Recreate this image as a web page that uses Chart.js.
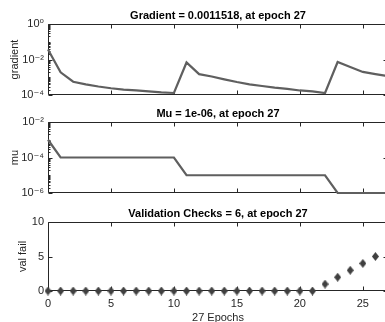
<!DOCTYPE html>
<html><head><meta charset="utf-8">
<script src="https://cdn.jsdelivr.net/npm/chart.js@4"></script>
<style>
html,body{margin:0;padding:0;background:#fff;overflow:hidden;}
#wrap{position:relative;width:400px;height:330px;}
canvas{position:absolute;left:0;}
#c1{top:0;z-index:1;} #c2{top:96px;z-index:3;} #c3{top:196px;z-index:2;}
</style></head><body>
<div id="wrap">
<canvas id="c1" width="400" height="108"></canvas>
<canvas id="c2" width="400" height="108"></canvas>
<canvas id="c3" width="400" height="134"></canvas>
</div>
<script>
// ---- data ----
const epochs = [0,1,2,3,4,5,6,7,8,9,10,11,12,13,14,15,16,17,18,19,20,21,22,23,24,25,26,27];
const gradient = [0.037,0.0019,0.00056,0.0004,0.0003,0.00024,0.0002,0.00018,0.00016,0.00014,0.00013,
  0.0068,0.0015,0.0011,0.00076,0.00054,0.0004,0.00032,0.00026,0.00022,0.00018,0.00016,0.00013,
  0.0072,0.0038,0.002,0.0015,0.0011518];
const mu = [1e-3,1e-4,1e-4,1e-4,1e-4,1e-4,1e-4,1e-4,1e-4,1e-4,1e-4,
  1e-5,1e-5,1e-5,1e-5,1e-5,1e-5,1e-5,1e-5,1e-5,1e-5,1e-5,1e-5,
  1e-6,1e-6,1e-6,1e-6,1e-6];
const valFail = [0,0,0,0,0,0,0,0,0,0,0,0,0,0,0,0,0,0,0,0,0,0,1,2,3,4,5,6];
const xTicks = [0,5,10,15,20,25];
const gradTicks = [1e-4,1e-2,1];
const muTicks = [1e-6,1e-4,1e-2];
const valTicks = [0,5,10];
const titles = ['Gradient = 0.0011518, at epoch 27','Mu = 1e-06, at epoch 27','Validation Checks = 6, at epoch 27'];
const yLabels = ['gradient','mu','val fail'];
const xLabel = '27 Epochs';

// ---- style ----
const FONT = "'Liberation Sans', Arial, Helvetica, 'DejaVu Sans', sans-serif";
Chart.defaults.font.family = FONT;
Chart.defaults.color = '#262626';
const AX = '#262626';
const LINE = '#5f5f5f';

const SUP = {'-':'\u207B','0':'\u2070','1':'\u00B9','2':'\u00B2','3':'\u00B3','4':'\u2074','5':'\u2075','6':'\u2076','7':'\u2077','8':'\u2078','9':'\u2079'};
function logLabel(v){ const e = Math.round(Math.log10(v)); return '10' + String(e).split('').map(c=>SUP[c]).join(''); }

function diamond(w,h,color){
  const c=document.createElement('canvas'); c.width=w; c.height=h;
  const g=c.getContext('2d'); g.fillStyle=color;
  g.beginPath(); g.moveTo(w/2,0); g.lineTo(w,h/2); g.lineTo(w/2,h); g.lineTo(0,h/2); g.closePath(); g.fill();
  return c;
}

const boxPlugin = {
  id:'boxTicks',
  beforeDatasetsDraw(chart){
    const {ctx, chartArea:a, scales} = chart;
    const x = scales.x, y = scales.y;
    const L=Math.round(a.left)+0.5, R=Math.round(a.right)-0.5, T=Math.round(a.top)+0.5, B=Math.round(a.bottom)-0.5;
    ctx.save();
    ctx.strokeStyle=AX; ctx.lineWidth=1;
    const seg=(x1,y1,x2,y2)=>{ctx.beginPath();ctx.moveTo(x1,y1);ctx.lineTo(x2,y2);ctx.stroke();};
    seg(L,B,R,B); seg(L,T,R,T); seg(R,T,R,B); seg(L,T,L,B);
    xTicks.forEach(v=>{const p=Math.round(x.getPixelForValue(v))+0.5; seg(p,T,p,T+4); seg(p,B,p,B-4);});
    if (y.type==='logarithmic'){
      const e0=Math.round(Math.log10(y.min)), e1=Math.round(Math.log10(y.max));
      for(let e=e0;e<=e1;e++){
        for(let m=1;m<=9;m++){
          const v=m*Math.pow(10,e); if(v>y.max*1.0001) break;
          const major = (m===1 && (e%2===0));
          const len = major?4:2;
          const p=Math.round(y.getPixelForValue(v))+0.5;
          seg(L,p,L+len,p); seg(R,p,R-len,p);
        }
      }
    } else {
      y.ticks.forEach(t=>{const p=Math.round(y.getPixelForValue(t.value))+0.5; seg(L,p,L+4,p); seg(R,p,R-4,p);});
    }
    ctx.restore();
  }
};

function makeChart(id, opt){
  const yScale = {
    type: opt.yType, min: opt.yMin, max: opt.yMax,
    afterBuildTicks: s => { s.ticks = opt.yTicks.map(v=>({value:v})); },
    afterFit: s => { s.width = 48; },
    grid:{display:false, drawTicks:false}, border:{display:false},
    ticks:{ autoSkip:false, padding:4, color:AX, font:{size:11},
      callback: v => opt.yType==='logarithmic' ? logLabel(v) : String(v) },
    title:{ display:true, text:opt.yLabel, color:AX, font:{size:11}, padding:{top:opt.yTitlePad,bottom:0} }
  };
  const xScale = {
    type:'linear', min:0, max:27, display: opt.showX,
    afterBuildTicks: s => { s.ticks = xTicks.map(v=>({value:v})); },
    grid:{display:false, drawTicks:false}, border:{display:false},
    ticks:{ padding:opt.xTickPad||0, color:AX, font:{size:11}, maxRotation:0, autoSkip:false },
    title:{ display: !!opt.showX, text:xLabel, color:AX, font:{size:11}, padding:{top:0,bottom:0} }
  };
  if (opt.showX) xScale.afterFit = s => { s.height = opt.xHeight; };
  return new Chart(document.getElementById(id), {
    type:'line',
    data:{ datasets:[ opt.dataset ] },
    options:{
      responsive:false, animation:false, events:[],
      layout:{ padding:{ left:0, right:12, top:opt.padTop, bottom:opt.padBottom } },
      plugins:{
        legend:{display:false}, tooltip:{enabled:false},
        title:{ display:true, text:opt.title, color:'#000', fullSize:false,
          font:{size:11, weight:'bold'}, padding:{top:9.2, bottom:1.6} }
      },
      scales:{ x:xScale, y:yScale }
    },
    plugins:[boxPlugin]
  });
}

// chart areas (page coords): 1: 24-95, 2: 122-193, 3: 222-291
makeChart('c1', {
  yType:'logarithmic', yMin:1e-4, yMax:1, yTicks:gradTicks, yLabel:yLabels[0], yTitlePad:8.4,
  title:titles[0], padTop:0, padBottom:108-95, showX:false,
  dataset:{ data: epochs.map((e,i)=>({x:e,y:gradient[i]})), borderColor:LINE, borderWidth:2.2,
    pointRadius:0, tension:0, fill:false, clip:4 }
});
makeChart('c2', {
  yType:'logarithmic', yMin:1e-6, yMax:1e-2, yTicks:muTicks, yLabel:yLabels[1], yTitlePad:8.4,
  title:titles[1], padTop:2, padBottom:96+108-193, showX:false,
  dataset:{ data: epochs.map((e,i)=>({x:e,y:mu[i]})), borderColor:LINE, borderWidth:2.2,
    pointRadius:0, tension:0, fill:false, clip:4 }
});
makeChart('c3', {
  yType:'linear', yMin:0, yMax:10, yTicks:valTicks, yLabel:yLabels[2], yTitlePad:16.7,
  title:titles[2], padTop:2, padBottom:5.7, showX:true, xHeight:330-291-5.7, xTickPad:6,
  dataset:{ data: epochs.map((e,i)=>({x:e,y:valFail[i]})), showLine:false,
    pointStyle: diamond(7,9,'#404040'), pointRadius:4, borderWidth:0, clip:false }
});
</script>
</body></html>
